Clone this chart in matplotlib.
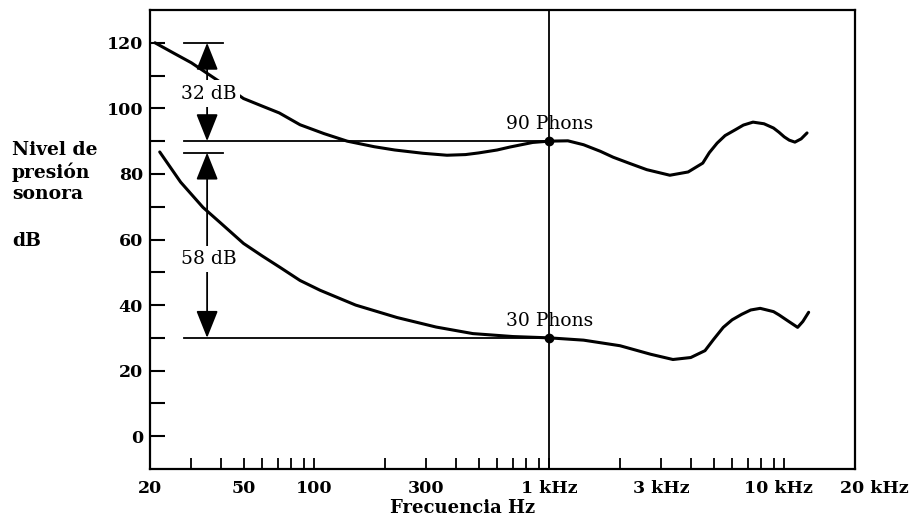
import numpy as np
import matplotlib.pyplot as plt
from matplotlib.ticker import FixedLocator, NullFormatter
from matplotlib.transforms import ScaledTranslation

# curva de 90 phons (Hz, dB)
f90 = [21, 25, 30, 38.5, 50, 60, 71, 87, 110, 138, 180, 220, 290, 367, 440, 500, 600, 680, 850, 1000,
       1200, 1400, 1650, 1870, 2200, 2600, 3260, 3900, 4500, 4800, 5180, 5600, 6200, 6700, 7360,
       8200, 9000, 9500, 10000, 10500, 11100, 11800, 12500]
db90 = [120, 117, 113.9, 108.7, 103, 100.7, 98.6, 95, 92.3, 90, 88.3, 87.3, 86.3, 85.7, 85.9, 86.4, 87.3, 88.2, 89.6, 90,
        90.1, 88.9, 86.9, 85.1, 83.2, 81.3, 79.6, 80.6, 83.3, 86.5, 89.4, 91.7, 93.5, 94.9, 95.8,
        95.3, 94, 92.7, 91.3, 90.3, 89.7, 90.7, 92.5]

# curva de 30 phons (Hz, dB)
f30 = [22, 27, 33.6, 40, 50, 60, 71.5, 87, 106, 150, 225, 330, 473, 700, 1000,
       1400, 2000, 2700, 3360, 4000, 4600, 5000, 5500, 6000, 6600, 7200, 7900, 9000, 9500,
       10300, 11400, 12000, 12700]
db30 = [86.7, 77.5, 69.8, 65, 58.8, 55, 51.5, 47.5, 44.5, 40, 36.2, 33.3, 31.3, 30.4, 30,
        29.3, 27.6, 25, 23.4, 24, 26.1, 29.5, 33.2, 35.5, 37.2, 38.5, 39, 38, 37,
        35.3, 33.2, 35, 37.8]

yticks = [0, 20, 40, 60, 80, 100, 120]
xticks = [20, 50, 100, 300, 1000, 3000, 10000, 20000]
xticklabels = ['20', '50', '100', '300', '1 kHz', '3 kHz', '10 kHz', '20 kHz']
xminor = [30, 40, 60, 70, 80, 90, 200, 400, 500, 600, 700, 800, 900,
          2000, 4000, 5000, 6000, 7000, 8000, 9000]

serif = 'DejaVu Serif'

fig = plt.figure(figsize=(9.14, 5.2), dpi=100)
ax = fig.add_axes([150 / 914, 51 / 520, 705 / 914, 459 / 520])

ax.set_xscale('log')
ax.set_xlim(20, 20000)
ax.set_ylim(-10, 130)

ax.plot(f90, db90, color='black', lw=2.2, solid_capstyle='round', solid_joinstyle='round', zorder=3)
ax.plot(f30, db30, color='black', lw=2.2, solid_capstyle='round', solid_joinstyle='round', zorder=3)

# lineas de referencia
ax.plot([28, 1000], [90, 90], color='black', lw=1.3, zorder=2)
ax.plot([28, 1000], [30, 30], color='black', lw=1.3, zorder=2)
ax.axvline(1000, color='black', lw=1.3, zorder=2)
ax.plot([1000, 1000], [90, 30], 'o', color='black', ms=6, zorder=4)
ax.text(1000, 92.5, '90 Phons', family=serif, fontsize=13.5, ha='center', va='bottom')
ax.text(1000, 32.5, '30 Phons', family=serif, fontsize=13.5, ha='center', va='bottom')

# barras y flechas de 32 dB y 58 dB
ax.plot([28, 41], [120, 120], color='black', lw=1.3)
ax.plot([28, 41], [86.5, 86.5], color='black', lw=1.3)
arrow = dict(arrowstyle='-|>,head_length=0.85,head_width=0.34', color='black', lw=1.3,
             shrinkA=0, shrinkB=0, mutation_scale=20)
ax.annotate('', xy=(35, 120), xytext=(35, 104.5), arrowprops=arrow)
ax.annotate('', xy=(35, 90), xytext=(35, 104.5), arrowprops=arrow)
ax.annotate('', xy=(35, 86.5), xytext=(35, 54), arrowprops=arrow)
ax.annotate('', xy=(35, 30), xytext=(35, 54), arrowprops=arrow)
box = dict(facecolor='white', edgecolor='none', pad=3)
ax.text(35.5, 104.5, '32 dB', family=serif, fontsize=13.5, ha='center', va='center', bbox=box, zorder=5)
ax.text(35.5, 54, '58 dB', family=serif, fontsize=13.5, ha='center', va='center', bbox=box, zorder=5)

# ejes
for s in ax.spines.values():
    s.set_linewidth(1.6)
ax.set_yticks(yticks)
ax.set_yticks([10, 30, 50, 70, 90, 110], minor=True)
ax.set_xticks(xticks)
ax.set_xticklabels(xticklabels)
ax.xaxis.set_minor_locator(FixedLocator(xminor))
ax.xaxis.set_minor_formatter(NullFormatter())
ax.tick_params(axis='y', which='both', direction='in', length=11, width=1.5, pad=5)
ax.tick_params(axis='x', which='both', direction='in', length=8, width=1.3, pad=8)
for lab in ax.get_xticklabels() + ax.get_yticklabels():
    lab.set_family(serif)
    lab.set_fontweight('bold')
    lab.set_fontsize(12.5)

# desplazar algunas etiquetas del eje x como en el original
shifts = {'10 kHz': -6, '20 kHz': 19}
for lab in ax.get_xticklabels():
    dx = shifts.get(lab.get_text(), 0)
    if dx:
        lab.set_transform(lab.get_transform() + ScaledTranslation(dx / 100, 0, fig.dpi_scale_trans))

fig.text(12 / 914, 1 - 172 / 520, 'Nivel de\npresión\nsonora', family=serif, fontweight='bold',
         fontsize=13.5, ha='left', va='center', linespacing=1.2)
fig.text(12 / 914, 1 - 241 / 520, 'dB', family=serif, fontweight='bold', fontsize=13.5,
         ha='left', va='center')
fig.text(463 / 914, 1 - 508 / 520, 'Frecuencia Hz', family=serif, fontweight='bold', fontsize=13,
         ha='center', va='center')

fig.savefig('out.png', dpi=100)
